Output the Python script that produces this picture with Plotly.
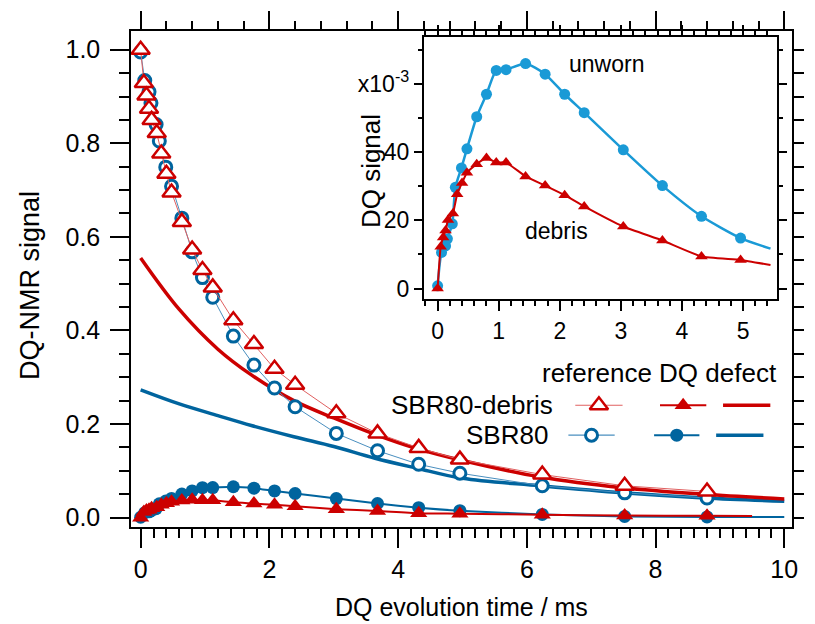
import plotly.graph_objects as go

# ---- data -------------------------------------------------------------
# SBR80-debris: DQ evolution time (ms), reference signal, DQ signal (x1e-3)
t_debris = [0, 0.05, 0.09, 0.13, 0.17, 0.25, 0.32, 0.40, 0.48, 0.64, 0.80, 0.96,
            1.12, 1.44, 1.76, 2.08, 2.40, 3.04, 3.68, 4.32, 4.96, 6.24, 7.52, 8.80]
ref_debris = [1.0, 0.929, 0.902, 0.874, 0.850, 0.822, 0.778, 0.735, 0.695, 0.632,
              0.573, 0.529, 0.492, 0.422, 0.371, 0.318, 0.284, 0.223, 0.180, 0.149,
              0.124, 0.092, 0.068, 0.056]
dq_debris = [0, 12.3, 15.0, 17.0, 20.1, 22.0, 27.7, 31.0, 34.0, 36.5, 38.3, 37.0,
             37.0, 32.9, 30.2, 27.4, 24.1, 18.2, 14.1, 9.4, 8.4, 6.2, 4.5, 3.8]

# SBR80 (unworn)
t_sbr = [0, 0.064, 0.13, 0.16, 0.24, 0.29, 0.39, 0.48, 0.64, 0.80, 0.96, 1.12,
         1.44, 1.76, 2.08, 2.40, 3.04, 3.68, 4.32, 4.96, 6.24, 7.52, 8.80]
ref_sbr = [0.995, 0.934, 0.910, 0.886, 0.840, 0.805, 0.749, 0.708, 0.640, 0.568,
           0.513, 0.471, 0.388, 0.326, 0.277, 0.237, 0.180, 0.143, 0.114, 0.095,
           0.068, 0.053, 0.042]
dq_sbr = [0.8, 10.6, 12.5, 14.6, 19.0, 29.7, 35.4, 41.0, 50.4, 57.0, 64.0, 64.2,
          66.0, 62.9, 57.0, 51.6, 40.7, 30.2, 21.2, 14.8, 6.8, 2.5, 1.5]

# end points of the smoothed DQ curves (main plot / inset), x1e-3
dq_tail_main_t = {"debris": 9.5, "sbr": 10.0}
dq_tail_main = {"debris": 3.3, "sbr": 1.2}
dq_tail_inset_t = 5.45
dq_tail_inset = {"debris": 6.9, "sbr": 11.7}

# defect (tail) fit curves
fit_t = [0, 0.6, 1.2, 1.72, 2.38, 3.0, 3.64, 4.28, 5.0, 6.21, 7.49, 8.76, 10.0]
fit_debris = [0.555, 0.445, 0.360, 0.305, 0.250, 0.213, 0.178, 0.148, 0.122,
              0.087, 0.064, 0.050, 0.040]
fit_sbr = [0.273, 0.243, 0.218, 0.197, 0.173, 0.152, 0.127, 0.106, 0.084,
           0.068, 0.053, 0.042, 0.035]

series_names = ["SBR80-debris", "SBR80"]
legend_header = "reference DQ defect"

# ---- styles -----------------------------------------------------------
RED = "#cc0000"
RED_THIN = "#e06060"
BLUE = "#00649e"
BLUE_THIN = "#4a8fbf"
BLUE_INSET = "#1a9ad6"
FONT = "Liberation Sans, Arial, sans-serif"

W, H = 815, 624
ML, MR, MT, MB = 131, 13, 30, 97
PW, PH = W - ML - MR, H - MT - MB
XR = [-0.15, 10.12]
YR = [-0.02, 1.04]


def px_x(x):
    return (x - ML) / PW


def px_y(y):
    return (H - MB - y) / PH


def scaled(v, k):
    return [a * k for a in v]


fig = go.Figure()

# ---- main plot ----
# fit curves
fig.add_trace(go.Scatter(x=fit_t, y=fit_sbr, mode="lines", line=dict(color=BLUE, width=3.5, shape="spline")))
fig.add_trace(go.Scatter(x=fit_t, y=fit_debris, mode="lines", line=dict(color=RED, width=3.5, shape="spline")))

# DQ (defect) data
fig.add_trace(go.Scatter(x=t_sbr + [dq_tail_main_t["sbr"]],
                         y=scaled(dq_sbr + [dq_tail_main["sbr"]], 1e-3),
                         mode="lines", line=dict(color=BLUE, width=2, shape="spline", smoothing=0.6)))
fig.add_trace(go.Scatter(x=t_sbr, y=scaled(dq_sbr, 1e-3), mode="markers",
                         marker=dict(symbol="circle", size=13, color=BLUE)))
fig.add_trace(go.Scatter(x=t_debris + [dq_tail_main_t["debris"]],
                         y=scaled(dq_debris + [dq_tail_main["debris"]], 1e-3),
                         mode="lines", line=dict(color=RED, width=2, shape="spline", smoothing=0.6)))
fig.add_trace(go.Scatter(x=t_debris, y=scaled(dq_debris, 1e-3), mode="markers",
                         marker=dict(symbol="triangle-up", size=15, color=RED)))

# reference data
fig.add_trace(go.Scatter(x=t_sbr, y=ref_sbr, mode="lines+markers",
                         line=dict(color=BLUE_THIN, width=1),
                         marker=dict(symbol="circle", size=12, color="white",
                                     line=dict(color=BLUE, width=3))))
fig.add_trace(go.Scatter(x=t_debris, y=ref_debris, mode="lines+markers",
                         line=dict(color=RED_THIN, width=1),
                         marker=dict(symbol="triangle-up", size=16, color="white",
                                     line=dict(color=RED, width=2.5))))

# invisible traces holding the top and right tick axes
fig.add_trace(go.Scatter(x=[0], y=[0], xaxis="x4", yaxis="y", mode="markers",
                         marker=dict(opacity=0), hoverinfo="skip"))
fig.add_trace(go.Scatter(x=[0], y=[0], xaxis="x", yaxis="y5", mode="markers",
                         marker=dict(opacity=0), hoverinfo="skip"))

# ---- inset ----
def inset_cut(t, v, tail):
    tt = [a for a in t if a <= 5.0]
    return tt + [dq_tail_inset_t], v[:len(tt)] + [tail]


xs, ys = inset_cut(t_sbr, dq_sbr, dq_tail_inset["sbr"])
fig.add_trace(go.Scatter(x=xs, y=ys, xaxis="x2", yaxis="y2", mode="lines",
                         line=dict(color=BLUE_INSET, width=2.5, shape="spline", smoothing=0.6)))
fig.add_trace(go.Scatter(x=xs[:-1], y=ys[:-1], xaxis="x2", yaxis="y2", mode="markers",
                         marker=dict(symbol="circle", size=11, color=BLUE_INSET)))
xd, yd = inset_cut(t_debris, dq_debris, dq_tail_inset["debris"])
fig.add_trace(go.Scatter(x=xd, y=yd, xaxis="x2", yaxis="y2", mode="lines",
                         line=dict(color=RED, width=2, shape="spline", smoothing=0.4)))
fig.add_trace(go.Scatter(x=xd[:-1], y=yd[:-1], xaxis="x2", yaxis="y2", mode="markers",
                         marker=dict(symbol="triangle-up", size=11, color=RED)))

# ---- legend (drawn on a pixel-space overlay) ----
LEG = dict(xaxis="x3", yaxis="y3", hoverinfo="skip")
rows = [
    # label, row y, colour, thin colour, symbol, open size, filled size, sample segments, outline width, label right edge
    (series_names[0], 405, RED, RED_THIN, "triangle-up", 16, 15, (582, 630), (668, 715), (732, 780), 2.5, 561),
    (series_names[1], 435, BLUE, BLUE_THIN, "circle", 12, 13, (575, 622), (662, 708), (725, 773), 3, 556),
]
annotations = []
for label, yy, col, thin, sym, s_open, s_fill, seg1, seg2, seg3, lw, xr in rows:
    fig.add_trace(go.Scatter(x=list(seg1), y=[yy, yy], mode="lines", line=dict(color=thin, width=1.2), **LEG))
    fig.add_trace(go.Scatter(x=[sum(seg1) / 2], y=[yy], mode="markers",
                             marker=dict(symbol=sym, size=s_open, color="white", line=dict(color=col, width=lw)), **LEG))
    fig.add_trace(go.Scatter(x=list(seg2), y=[yy, yy], mode="lines", line=dict(color=col, width=2), **LEG))
    fig.add_trace(go.Scatter(x=[sum(seg2) / 2], y=[yy], mode="markers",
                             marker=dict(symbol=sym, size=s_fill, color=col), **LEG))
    fig.add_trace(go.Scatter(x=list(seg3), y=[yy, yy], mode="lines", line=dict(color=col, width=3.5), **LEG))
    annotations.append(dict(x=px_x(xr), y=px_y(yy), xref="paper", yref="paper",
                            text=label, showarrow=False, xanchor="right", yanchor="middle",
                            font=dict(size=26, color="black", family=FONT)))

annotations.append(dict(x=px_x(546), y=px_y(373), xref="paper", yref="paper", text=legend_header,
                        showarrow=False, xanchor="left", yanchor="middle",
                        font=dict(size=26, color="black", family=FONT)))
# axis titles
annotations.append(dict(x=px_x(29), y=px_y(285), xref="paper", yref="paper", text="DQ-NMR signal",
                        showarrow=False, textangle=-90, xanchor="center", yanchor="middle",
                        font=dict(size=27, color="black", family=FONT)))
annotations.append(dict(x=px_x(467), y=px_y(607), xref="paper", yref="paper", text="DQ evolution time / ms",
                        showarrow=False, xanchor="center", yanchor="middle",
                        font=dict(size=25, color="black", family=FONT)))
annotations.append(dict(x=px_x(374), y=px_y(170), xref="paper", yref="paper", text="DQ signal",
                        showarrow=False, textangle=-90, xanchor="center", yanchor="middle",
                        font=dict(size=26, color="black", family=FONT)))
# inset labels
annotations.append(dict(x=2.76, y=65.9, xref="x2", yref="y2", text="unworn", showarrow=False,
                        font=dict(size=23, color="black", family=FONT)))
annotations.append(dict(x=1.95, y=17.0, xref="x2", yref="y2", text="debris", showarrow=False,
                        font=dict(size=23, color="black", family=FONT)))

tick = dict(ticks="outside", tickcolor="black", tickwidth=1.5, showgrid=False, zeroline=False)

fig.update_layout(
    width=W, height=H,
    margin=dict(l=ML, r=MR, t=MT, b=MB),
    paper_bgcolor="white", plot_bgcolor="white",
    showlegend=False,
    font=dict(family=FONT, color="black"),
    annotations=annotations,
    xaxis=dict(domain=[0, 1], anchor="y", range=XR, dtick=2, tick0=0, ticklen=19,
               showline=True, linecolor="black", linewidth=1.5, mirror=True,
               minor=dict(dtick=0.2, tick0=0, ticklen=9, ticks="outside", tickcolor="black", tickwidth=1.5),
               tickfont=dict(size=25), **tick),
    yaxis=dict(domain=[0, 1], anchor="x", range=YR, dtick=0.2, tick0=0, tickformat=".1f", ticklen=19,
               ticklabelstandoff=5,
               showline=True, linecolor="black", linewidth=1.5, mirror=True,
               minor=dict(dtick=0.05, tick0=0, ticklen=10, ticks="outside", tickcolor="black", tickwidth=1.5),
               tickfont=dict(size=25), **tick),
    xaxis4=dict(overlaying="x", side="top", anchor="y", range=XR, dtick=2, tick0=0, ticklen=19,
                showticklabels=False, showline=False,
                minor=dict(dtick=0.4, tick0=0, ticklen=9, ticks="outside", tickcolor="black", tickwidth=1.5),
                **tick),
    yaxis5=dict(overlaying="y", side="right", anchor="x", range=YR, dtick=0.05, tick0=0, ticklen=11,
                showticklabels=False, showline=False, **tick),
    xaxis2=dict(domain=[px_x(428), px_x(787)], anchor="y2", range=[-0.23, 5.56], dtick=1, tick0=0,
                ticklen=10, showline=True, linecolor="black", linewidth=1.5, mirror="allticks",
                minor=dict(dtick=0.2, tick0=0, ticklen=5, ticks="outside", tickcolor="black", tickwidth=1.5),
                tickfont=dict(size=23), **tick),
    yaxis2=dict(domain=[px_y(299), px_y(36)], anchor="x2", range=[-3.2, 73.8],
                tickvals=[0, 20, 40, 60], ticktext=["0", "20", "40", "x10<sup>-3</sup>"],
                ticklen=8, showline=True, linecolor="black", linewidth=1.5, mirror="allticks",
                minor=dict(dtick=10, tick0=0, ticklen=4, ticks="outside", tickcolor="black", tickwidth=1.5),
                tickfont=dict(size=23), **tick),
    xaxis3=dict(overlaying="x", anchor="y3", range=[ML, W - MR], visible=False, fixedrange=True),
    yaxis3=dict(overlaying="y", anchor="x3", range=[H - MB, MT], visible=False, fixedrange=True),
)

fig.write_html("out.html")
